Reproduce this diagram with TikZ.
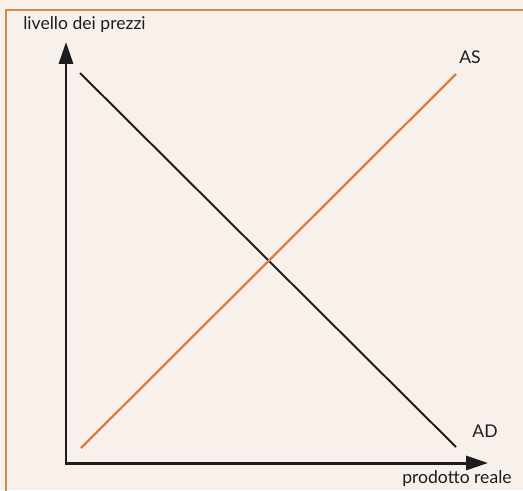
\documentclass[tikz,border=0pt]{standalone}
\usepackage{fontspec}
\setmainfont{Lato}
\usetikzlibrary{arrows.meta, positioning}
\definecolor{paperbeige}{RGB}{248, 241, 235}
\definecolor{curveorange}{RGB}{222, 124, 62}
\definecolor{frameorange}{RGB}{214, 137, 78}
\definecolor{axisblack}{RGB}{30, 28, 28}

\begin{document}
\begin{tikzpicture}[
  x=0.02cm, y=-0.02cm,
  axis/.style={-{Triangle[length=12.5pt, width=8pt]}, line width=1.7pt, axisblack},
  adline/.style={line width=1.1pt, axisblack},
  asline/.style={line width=1.3pt, curveorange},
  lbl/.style={font=\fontsize{10}{12}\selectfont, text=axisblack, inner sep=0pt}
]
  % background and frame
  \fill[paperbeige] (0,0) rectangle (523,490);
  \useasboundingbox (0,0) rectangle (523,490);
  \draw[frameorange, line width=1.4pt] (6,491) -- (6,10) -- (524,10);

  % axes
  \coordinate (origin) at (66,463);
  \coordinate (ytop) at (66,42);
  \coordinate (xend) at (488,463);
  \draw[axis] (origin) -- (ytop);
  \draw[axis] ([xshift=-0.85pt]origin) -- (xend);

  % curves
  \coordinate (ad1) at (80,73);
  \coordinate (ad2) at (456,447);
  \coordinate (as1) at (81,448);
  \coordinate (as2) at (456,74);
  \draw[adline] (ad1) -- (ad2);
  \draw[asline] (as1) -- (as2);

  % labels
  \node[lbl, anchor=west] (ylabel) at (23,25) {livello dei prezzi};
  \node[lbl, anchor=east] (xlabel) at (512,479) {prodotto reale};
  \node[lbl] (aslabel) at (470,57) {AS};
  \node[lbl] (adlabel) at (485,431) {AD};
\end{tikzpicture}
\end{document}
